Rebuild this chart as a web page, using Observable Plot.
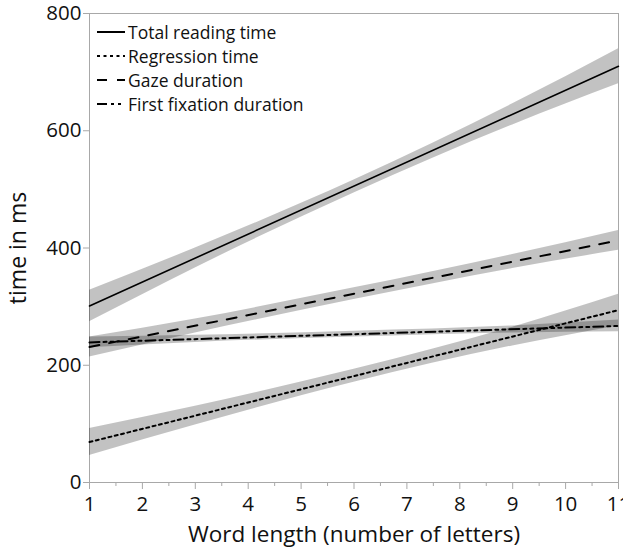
<!DOCTYPE html>
<html><head><meta charset="utf-8">
<script src="https://cdn.jsdelivr.net/npm/d3@7"></script>
<script src="https://cdn.jsdelivr.net/npm/@observablehq/plot@0.6"></script>
<style>
body{margin:0;background:#fff;}
#wrap{position:relative;width:623px;height:548px;font-family:"Open Sans",sans-serif;}
#legend{position:absolute;left:97px;top:20px;font-size:17.5px;line-height:24px;color:#111;}
#legend div{display:flex;align-items:center;height:24px;}
#legend svg{margin-right:3px;}
</style></head><body><div id="wrap"><div id="legend"></div></div>
<script>
const series = ["Total reading time", "Regression time", "Gaze duration", "First fixation duration"];
const dashes = ["none", "3,3.5", "10,10", "10,4,3,4,3,4"];

// fitted lines, read at x = 1 and x = 11
const lineX = [1, 11];
const totalLine = [301, 710];
const regressionLine = [69, 294];
const gazeLine = [231, 413];
const firstLine = [239, 267];

// confidence bands, read at a few word lengths
const bandX = [1, 3, 6, 9, 11];
const totalLo = [274, 366, 494, 610, 680];
const totalHi = [328, 400, 516, 646, 740];
const regressionLo = [46, 98, 171, 233, 267];
const regressionHi = [92, 130, 193, 265, 321];
const gazeLo = [214, 255, 312, 365, 396];
const gazeHi = [248, 279, 332, 389, 430];
const firstLo = [230, 239, 248, 255, 257];
const firstHi = [248, 251, 258, 267, 277];

const xTicks = [1, 2, 3, 4, 5, 6, 7, 8, 9, 10, 11];
const xMinor = [1.5, 2.5, 3.5, 4.5, 5.5, 6.5, 7.5, 8.5, 9.5, 10.5];
const yTicks = [0, 200, 400, 600, 800];

const lines = [totalLine, regressionLine, gazeLine, firstLine];
const los = [totalLo, regressionLo, gazeLo, firstLo];
const his = [totalHi, regressionHi, gazeHi, firstHi];

const bands = [];
series.forEach((s, i) => bandX.forEach((x, j) => bands.push({series: s, x, lo: los[i][j], hi: his[i][j]})));

const marks = [
  Plot.frame({stroke: "#a8a8a8"}),
  Plot.axisX({ticks: xMinor, tickSize: 4, text: null, label: null, stroke: "#a8a8a8"}),
  Plot.axisX({ticks: xTicks, tickSize: 7, tickPadding: 7, fontSize: 20.5, stroke: "#a8a8a8", fill: "#111",
    label: "Word length (number of letters)", labelAnchor: "center", labelArrow: "none", labelOffset: 59}),
  Plot.axisY({ticks: yTicks, tickSize: 6, tickPadding: 2, fontSize: 20.5, stroke: "#a8a8a8", fill: "#111", label: null}),
  Plot.areaY(bands, {x: "x", y1: "lo", y2: "hi", z: "series", fill: "#000", fillOpacity: 0.24, curve: "monotone-x"})
];
series.forEach((s, i) => {
  const pts = lineX.map((x, j) => ({x, y: lines[i][j]}));
  marks.push(Plot.line(pts, {x: "x", y: "y", stroke: "#000", strokeWidth: i === 0 ? 1.6 : 2, strokeDasharray: dashes[i]}));
});
marks.push(Plot.text(["time in ms"], {frameAnchor: "left", textAnchor: "middle", rotate: -90, dx: -71, fontSize: 23, fill: "#111", text: d => d}));

const chart = Plot.plot({
  width: 623, height: 548,
  marginLeft: 89, marginRight: 5, marginTop: 13, marginBottom: 66,
  style: {fontFamily: "'Open Sans', sans-serif", fontSize: "20px", color: "#111", background: "#fff"},
  x: {domain: [1, 11]},
  y: {domain: [0, 800]},
  marks
});
document.getElementById("wrap").prepend(chart);
chart.querySelectorAll("g[aria-label='x-axis label'] text").forEach(t => t.setAttribute("font-size", 22.5));

const leg = document.getElementById("legend");
series.forEach((s, i) => {
  const row = document.createElement("div");
  row.innerHTML = `<svg width="28" height="10"><line x1="0" x2="28" y1="5" y2="5" stroke="#000" stroke-width="2" stroke-dasharray="${dashes[i]}"/></svg><span>${s}</span>`;
  leg.appendChild(row);
});
</script></body></html>
